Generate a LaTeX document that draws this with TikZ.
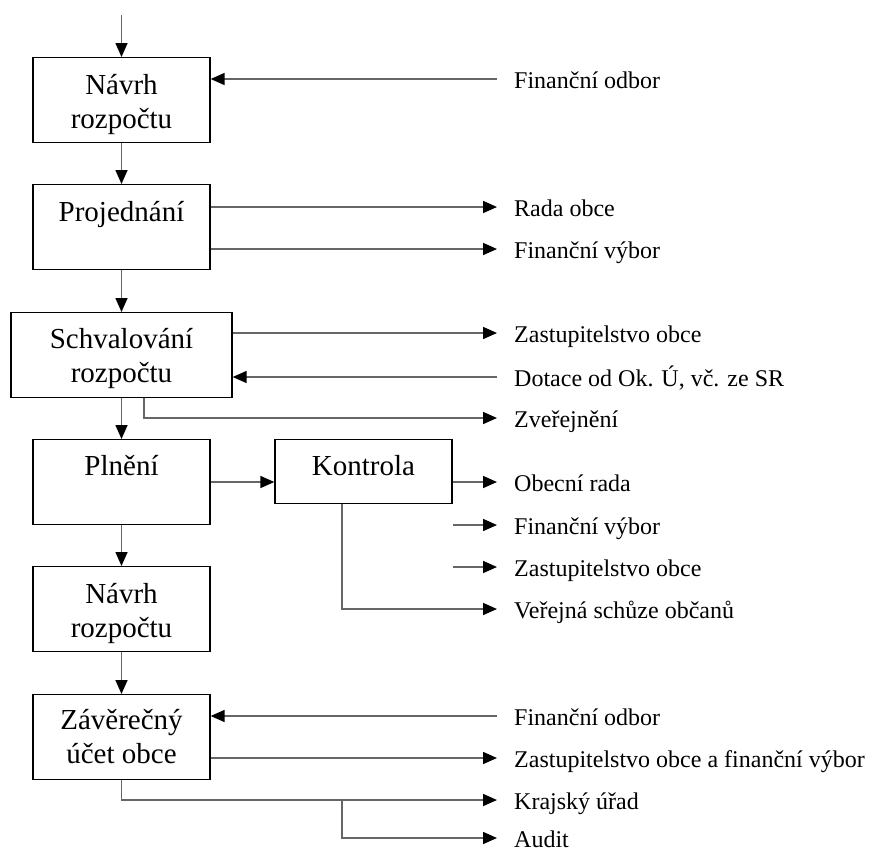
\documentclass[tikz,border=0pt]{standalone}
\usepackage{fontspec}
\setmainfont{Liberation Serif}
\usetikzlibrary{arrows.meta,calc}
\newcommand{\bxt}[4]{\parbox[c][#1][t]{#2}{\centering\rule{0pt}{#3}#4}}
\begin{document}
\begin{tikzpicture}[x=1pt,y=-1pt,
  box/.style={draw=black,line width=1.3pt,inner sep=0pt,
    font=\fontsize{29}{34}\selectfont},
  lab/.style={anchor=west,inner xsep=17pt,inner ysep=0pt,
    font=\fontsize{24}{28}\selectfont,text height=20pt,text depth=2pt},
  conn/.style={draw=black!60,line width=1.6pt},
  arr/.style={conn,-{Triangle[length=14pt,width=12pt,color=black]}}]
\useasboundingbox (0,0) rectangle (873,852);
% boxes
\node[box,anchor=north] (b1) at (121.5,57) {\bxt{85pt}{177pt}{37pt}{Návrh\\rozpočtu}};
\node[box,anchor=north] (b2) at (121.5,184) {\bxt{85pt}{177pt}{37pt}{Projednání}};
\node[box,anchor=north] (b3) at (121.5,312) {\bxt{85pt}{221pt}{36pt}{Schvalování\\rozpočtu}};
\node[box,anchor=north] (b4) at (121.5,439) {\bxt{85pt}{177pt}{36pt}{Plnění}};
\node[box,anchor=north] (kon) at (363.5,439) {\bxt{64pt}{177pt}{36pt}{Kontrola}};
\node[box,anchor=north] (b5) at (121.5,566) {\bxt{85pt}{177pt}{37pt}{Návrh\\rozpočtu}};
\node[box,anchor=north] (b6) at (121.5,694) {\bxt{85pt}{177pt}{35pt}{Závěrečný\\účet obce}};
% labels
\node[lab] (lFO1) at (497,79) {Finanční odbor};
\node[lab] (lRada) at (497,207) {Rada obce};
\node[lab] (lFV1) at (497,249) {Finanční výbor};
\node[lab] (lZO1) at (497,333) {Zastupitelstvo obce};
\node[lab] (lDot) at (497,377) {Dotace od Ok. Ú, vč. ze SR};
\node[lab] (lZv) at (497,418) {Zveřejnění};
\node[lab] (lOR) at (497,482) {Obecní rada};
\node[lab] (lFV2) at (497,525) {Finanční výbor};
\node[lab] (lZO2) at (497,567) {Zastupitelstvo obce};
\node[lab] (lVer) at (497,609) {Veřejná schůze občanů};
\node[lab] (lFO2) at (497,716) {Finanční odbor};
\node[lab] (lZOFV) at (497,758) {Zastupitelstvo obce a finanční výbor};
\node[lab] (lKraj) at (497,800) {Krajský úřad};
\node[lab] (lAud) at (497,838) {Audit};
\coordinate (top) at (121.5,15);
% vertical flow
\draw[arr] (top) -- (b1.north);
\draw[arr] (b1.south) -- (b2.north);
\draw[arr] (b2.south) -- (b3.north);
\draw[arr] (b3.south) -- (b4.north);
\draw[arr] (b4.south) -- (b5.north);
\draw[arr] (b5.south) -- (b6.north);
% side connectors
\draw[arr] (lFO1.west) -- (b1.east |- lFO1.west);
\draw[arr] (b2.east |- lRada.west) -- (lRada.west);
\draw[arr] (b2.east |- lFV1.west) -- (lFV1.west);
\draw[arr] (b3.east |- lZO1.west) -- (lZO1.west);
\draw[arr] (lDot.west) -- (b3.east |- lDot.west);
\draw[arr] (b3.south) ++(22.5,0) |- (lZv.west);
\draw[arr] (b4.east |- lOR.west) -- (kon.west |- lOR.west);
\draw[arr] (kon.east |- lOR.west) -- (lOR.west);
\draw[arr] (kon.east |- lFV2.west) -- (lFV2.west);
\draw[arr] (kon.east |- lZO2.west) -- (lZO2.west);
\path (kon.south) ++(-21.5,0) coordinate (kx);
\draw[arr] (kx) |- (lVer.west);
\draw[arr] (lFO2.west) -- (b6.east |- lFO2.west);
\draw[arr] (b6.east |- lZOFV.west) -- (lZOFV.west);
\draw[arr] (b6.south) |- (lKraj.west);
\draw[arr] (kx |- lKraj.west) |- (lAud.west);
\end{tikzpicture}
\end{document}
